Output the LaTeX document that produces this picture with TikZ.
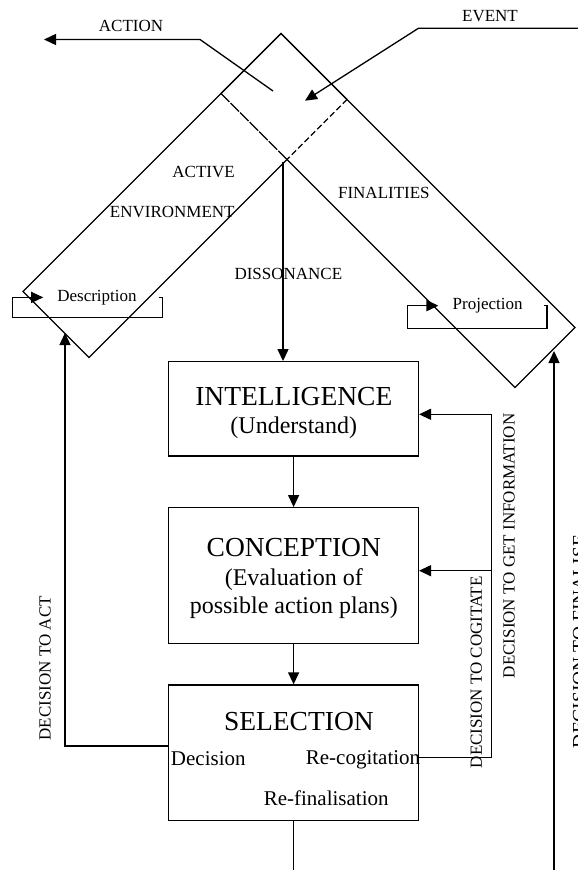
\documentclass[tikz,border=0pt]{standalone}
\usepackage{fontspec}
\setmainfont{Liberation Serif}
\usetikzlibrary{arrows.meta,calc}

\begin{document}
\begin{tikzpicture}[
        x=1pt, y=-1pt,
        line width=1.3pt,
        every node/.style={inner sep=0pt},
        arr/.style={-{Triangle[length=12pt,width=11pt]}},
        stage/.style={draw, minimum width=249.6pt},
        lbl/.style={font=\fontsize{17}{20}\selectfont, anchor=base},
        mid/.style={font=\fontsize{21}{24}\selectfont, anchor=base},
        big/.style={font=\fontsize{27.5}{32}\selectfont, anchor=base},
        sub/.style={font=\fontsize{24}{28}\selectfont, anchor=base},
        vlbl/.style={font=\fontsize{17}{20}\selectfont, rotate=90}
        ]
    \useasboundingbox (0,0) rectangle (578,870);

    % the two strips
    \coordinate (top) at (281,33.5);
    \coordinate (envR) at (347,99.5);
    \coordinate (envB) at (89,357.5);
    \coordinate (envL) at (23,291.5);
    \coordinate (finL) at (221,93.5);
    \coordinate (finR) at (575,327.5);
    \coordinate (finB) at (515,387.5);
    \coordinate (cross) at (287,159.5);
    \draw (cross) -- (envB) -- (envL) -- (top) -- (envR);
    \draw[dash pattern=on 6pt off 3pt] (envR) -- (cross);
    \draw (cross) -- (finB) -- (finR) -- (top) -- (finL);
    \draw[dash pattern=on 12pt off 1.5pt] (finL) -- (cross);

    % action and event
    \node[lbl] (action) at (131,31.7) {ACTION};
    \node[lbl] (event) at (490,21) {EVENT};
    \coordinate (act0) at (273,91);
    \coordinate (act1) at (200,39.5);
    \coordinate (actend) at (44,39.5);
    \draw[arr] (act0) -- (act1) -- (actend);
    \coordinate (evt0) at (579,28.3);
    \coordinate (evt1) at (418.4,28.3);
    \coordinate (evtend) at (305,100.7);
    \draw[arr] (evt0) -- (evt1) -- (evtend);

    \node[lbl] (active) at (203.6,177.7) {ACTIVE};
    \node[lbl] (environment) at (172.3,217.7) {ENVIRONMENT};
    \node[lbl] (finalities) at (383.9,198.3) {FINALITIES};
    \node[lbl] (dissonance) at (288.4,279.3) {DISSONANCE};

    % loops
    \node[lbl, inner xsep=13.5pt] (desc) at (97,301.2) {Description};
    \draw[arr] ($(desc.east)+(8,0)$) -- ++(4,0) |- ($(desc.west)+(-30.5,20)$) |- (desc.west);
    \node[lbl, inner xsep=13.6pt] (proj) at (487.6,309.5) {Projection};
    \draw[arr] ($(proj.east)+(7.5,0)$) -- ++(2.6,0) |- ($(proj.west)+(-30.6,23)$) |- (proj.west);

    % the three stages
    \node[stage, minimum height=94.3pt] (intel) at (293.6,408.85) {};
    \node[stage, minimum height=135.6pt] (concept) at (293.6,575.5) {};
    \node[stage, minimum height=135.7pt] (sel) at (293.6,752.85) {};
    \node[big] (inteltitle) at (293.8,405) {INTELLIGENCE};
    \node[sub] (intelsub) at (293.8,433) {(Understand)};
    \node[big] (concepttitle) at (293.8,556.7) {CONCEPTION};
    \node[sub] (conceptsub) at (293.8,585) {(Evaluation of};
    \node[sub] (conceptsubb) at (293.8,613.4) {possible action plans)};
    \node[big] (seltitle) at (298.9,730) {SELECTION};
    \node[mid] (decision) at (208.3,765) {Decision};
    \node[mid] (recog) at (363,764.5) {Re-cogitation};
    \node[mid] (refin) at (326.2,805) {Re-finalisation};

    \coordinate (dis) at (283,162);
    \draw[arr] (dis) -- (dis |- intel.north);
    \draw[arr] (intel) -- (concept);
    \draw[arr] (concept) -- (sel);
    \coordinate (selout) at (293.6,872);
    \draw (sel) -- (selout);

    % decisions
    \coordinate (actin) at (65,333);
    \draw[arr] ([yshift=6.85pt]sel.west) -| (actin);
    \node[vlbl] (toact) at (45,668.3) {DECISION TO ACT};

    \coordinate (intin) at ([yshift=-5.45pt]intel.east);
    \coordinate (conin) at ([yshift=4.8pt]concept.east);
    \coordinate (fb) at (491.5,414.3);
    \draw ([yshift=-4.6pt]sel.east) -| (fb);
    \draw[arr] (intin -| fb) -- (intin);
    \draw[arr] (conin -| fb) -- (conin);
    \node[vlbl] (tocog) at (476.3,672.3) {DECISION TO COGITATE};
    \node[vlbl] (toinfo) at (509,545.8) {DECISION TO GET INFORMATION};

    \coordinate (finout) at (554,872);
    \coordinate (finin) at (554,351);
    \draw[arr] (finout) -- (finin);
    \node[vlbl, font=\fontsize{19.5}{22}\selectfont] (tofin) at (579.5,641.5) {DECISION TO FINALISE};
\end{tikzpicture}
\end{document}
